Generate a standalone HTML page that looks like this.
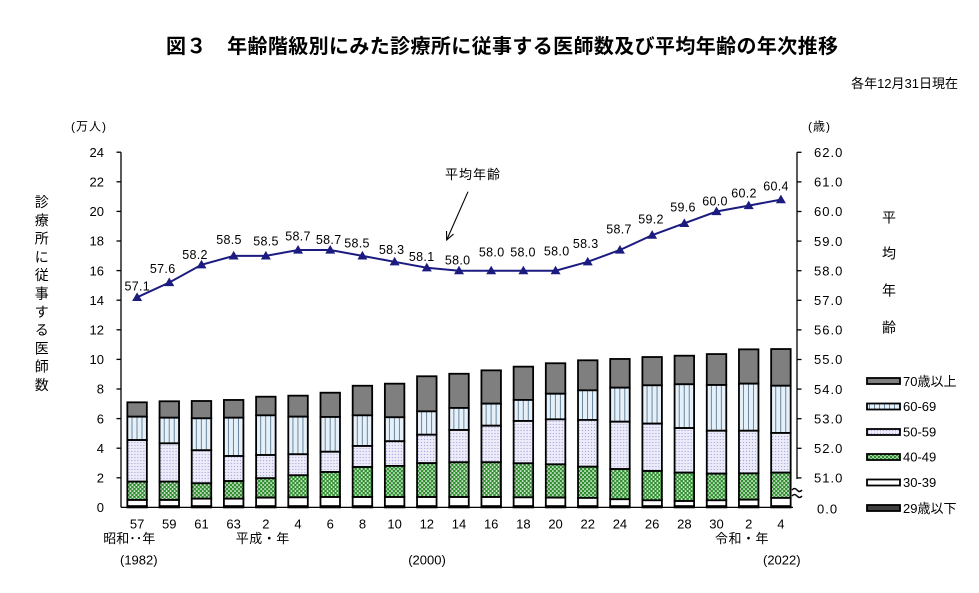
<!DOCTYPE html>
<html><head><meta charset="utf-8"><style>
html,body{margin:0;padding:0;background:#fff;}
svg{display:block;}
text{font-family:"Liberation Sans","Noto Sans CJK JP",sans-serif;fill:#000;}
</style></head><body>
<svg width="979" height="593" viewBox="0 0 979 593" xmlns="http://www.w3.org/2000/svg">
<defs>
<pattern id="st" patternUnits="userSpaceOnUse" width="5" height="10"><rect width="5" height="10" fill="#e6f0f8"/><rect x="4.3" y="0" width="1.4" height="10" fill="#34587a"/></pattern>
<pattern id="dt" patternUnits="userSpaceOnUse" width="3" height="3"><rect width="3" height="3" fill="#ececfa"/><circle cx="1.5" cy="1.5" r="0.65" fill="#a9a9da"/></pattern>
<pattern id="gr" patternUnits="userSpaceOnUse" width="4" height="4"><rect width="4" height="4" fill="#2f8f2f"/><rect x="0.3" y="0.3" width="1.5" height="1.5" fill="#fff"/><rect x="2.3" y="2.3" width="1.5" height="1.5" fill="#fff"/></pattern>
<path id="m" d="M0,-5 L5,3.6 L-5,3.6Z" fill="#1c1c80"/>
</defs>
<rect width="979" height="593" fill="#fff"/>

<!-- Title -->
<text x="166" y="53" font-size="20" font-weight="bold" textLength="672" lengthAdjust="spacing">図３　年齢階級別にみた診療所に従事する医師数及び平均年齢の年次推移</text>
<text x="958" y="88" font-size="13" text-anchor="end">各年12月31日現在</text>

<!-- unit labels -->
<text x="71" y="130.5" font-size="12" letter-spacing="1">(万人)</text>
<text x="808" y="130.5" font-size="12" letter-spacing="1">(歳)</text>

<!-- left vertical label -->
<text font-size="14" text-anchor="middle">
<tspan x="41.7" y="207">診</tspan><tspan x="41.7" dy="18.3">療</tspan><tspan x="41.7" dy="18.3">所</tspan><tspan x="41.7" dy="18.3">に</tspan><tspan x="41.7" dy="18.3">従</tspan><tspan x="41.7" dy="18.3">事</tspan><tspan x="41.7" dy="18.3">す</tspan><tspan x="41.7" dy="18.3">る</tspan><tspan x="41.7" dy="18.3">医</tspan><tspan x="41.7" dy="18.3">師</tspan><tspan x="41.7" dy="18.3">数</tspan>
</text>
<!-- right vertical label -->
<text font-size="14" text-anchor="middle">
<tspan x="889" y="222.3">平</tspan><tspan x="889" y="258.6">均</tspan><tspan x="889" y="295.3">年</tspan><tspan x="889" y="332.3">齢</tspan>
</text>

<!-- left axis -->
<g stroke="#000" stroke-width="1.3" fill="none">
<line x1="121" y1="152.2" x2="121" y2="507.4"/>
<line x1="121" y1="507.4" x2="793" y2="507.4"/>
<line x1="116.5" y1="152.2" x2="121" y2="152.2"/>
<line x1="116.5" y1="181.8" x2="121" y2="181.8"/>
<line x1="116.5" y1="211.4" x2="121" y2="211.4"/>
<line x1="116.5" y1="241.0" x2="121" y2="241.0"/>
<line x1="116.5" y1="270.6" x2="121" y2="270.6"/>
<line x1="116.5" y1="300.2" x2="121" y2="300.2"/>
<line x1="116.5" y1="329.8" x2="121" y2="329.8"/>
<line x1="116.5" y1="359.4" x2="121" y2="359.4"/>
<line x1="116.5" y1="389.0" x2="121" y2="389.0"/>
<line x1="116.5" y1="418.6" x2="121" y2="418.6"/>
<line x1="116.5" y1="448.2" x2="121" y2="448.2"/>
<line x1="116.5" y1="477.8" x2="121" y2="477.8"/>
<!-- right axis -->
<line x1="797" y1="152.3" x2="797" y2="479"/>
<line x1="797" y1="152.3" x2="801.5" y2="152.3"/>
<line x1="797" y1="181.9" x2="801.5" y2="181.9"/>
<line x1="797" y1="211.5" x2="801.5" y2="211.5"/>
<line x1="797" y1="241.1" x2="801.5" y2="241.1"/>
<line x1="797" y1="270.7" x2="801.5" y2="270.7"/>
<line x1="797" y1="300.3" x2="801.5" y2="300.3"/>
<line x1="797" y1="329.9" x2="801.5" y2="329.9"/>
<line x1="797" y1="359.5" x2="801.5" y2="359.5"/>
<line x1="797" y1="389.1" x2="801.5" y2="389.1"/>
<line x1="797" y1="418.7" x2="801.5" y2="418.7"/>
<line x1="797" y1="448.3" x2="801.5" y2="448.3"/>
<line x1="797" y1="477.9" x2="801.5" y2="477.9"/>
<path d="M792,490 q2.5,-3 5,0 t5,0 M792,496 q2.5,-3 5,0 t5,0" stroke-width="1.4"/>
</g>

<!-- left tick labels -->
<g font-size="13" text-anchor="end">
<text x="104" y="512.1">0</text>
<text x="104" y="482.5">2</text>
<text x="104" y="452.9">4</text>
<text x="104" y="423.3">6</text>
<text x="104" y="393.7">8</text>
<text x="104" y="364.1">10</text>
<text x="104" y="334.5">12</text>
<text x="104" y="304.9">14</text>
<text x="104" y="275.3">16</text>
<text x="104" y="245.7">18</text>
<text x="104" y="216.1">20</text>
<text x="104" y="186.5">22</text>
<text x="104" y="156.9">24</text>
</g>
<!-- right tick labels -->
<g font-size="13" letter-spacing="1">
<text x="814" y="157">62.0</text>
<text x="814" y="186.6">61.0</text>
<text x="814" y="216.2">60.0</text>
<text x="814" y="245.8">59.0</text>
<text x="814" y="275.4">58.0</text>
<text x="814" y="305">57.0</text>
<text x="814" y="334.6">56.0</text>
<text x="814" y="364.2">55.0</text>
<text x="814" y="393.8">54.0</text>
<text x="814" y="423.4">53.0</text>
<text x="814" y="453">52.0</text>
<text x="814" y="482.6">51.0</text>
<text x="817" y="513.7">0.0</text>
</g>

<!-- bars -->
<g stroke="#000" stroke-width="1.8">
<g transform="translate(127.35,0)"><rect y="402.32" width="19.5" height="14.36" fill="#7f7f7f"/><rect y="416.68" width="19.5" height="23.38" fill="url(#st)"/><rect y="440.06" width="19.5" height="41.59" fill="url(#dt)"/><rect y="481.65" width="19.5" height="18.35" fill="url(#gr)"/><rect y="500.0" width="19.5" height="6.2" fill="#fff"/><rect y="506.2" width="19.5" height="1.2" fill="#333"/></g>
<g transform="translate(159.54,0)"><rect y="401.28" width="19.5" height="16.43" fill="#7f7f7f"/><rect y="417.71" width="19.5" height="25.61" fill="url(#st)"/><rect y="443.32" width="19.5" height="38.33" fill="url(#dt)"/><rect y="481.65" width="19.5" height="18.35" fill="url(#gr)"/><rect y="500.0" width="19.5" height="6.2" fill="#fff"/><rect y="506.2" width="19.5" height="1.2" fill="#333"/></g>
<g transform="translate(191.73,0)"><rect y="400.99" width="19.5" height="17.31" fill="#7f7f7f"/><rect y="418.30" width="19.5" height="31.97" fill="url(#st)"/><rect y="450.27" width="19.5" height="33.01" fill="url(#dt)"/><rect y="483.28" width="19.5" height="15.39" fill="url(#gr)"/><rect y="498.67" width="19.5" height="7.53" fill="#fff"/><rect y="506.2" width="19.5" height="1.2" fill="#333"/></g>
<g transform="translate(223.92,0)"><rect y="399.95" width="19.5" height="17.76" fill="#7f7f7f"/><rect y="417.71" width="19.5" height="38.33" fill="url(#st)"/><rect y="456.04" width="19.5" height="25.02" fill="url(#dt)"/><rect y="481.06" width="19.5" height="17.61" fill="url(#gr)"/><rect y="498.67" width="19.5" height="7.53" fill="#fff"/><rect y="506.2" width="19.5" height="1.2" fill="#333"/></g>
<g transform="translate(256.11,0)"><rect y="396.70" width="19.5" height="18.64" fill="#7f7f7f"/><rect y="415.34" width="19.5" height="39.67" fill="url(#st)"/><rect y="455.01" width="19.5" height="23.23" fill="url(#dt)"/><rect y="478.24" width="19.5" height="19.39" fill="url(#gr)"/><rect y="497.63" width="19.5" height="8.57" fill="#fff"/><rect y="506.2" width="19.5" height="1.2" fill="#333"/></g>
<g transform="translate(288.30,0)"><rect y="395.66" width="19.5" height="21.02" fill="#7f7f7f"/><rect y="416.68" width="19.5" height="37.59" fill="url(#st)"/><rect y="454.27" width="19.5" height="21.01" fill="url(#dt)"/><rect y="475.28" width="19.5" height="22.06" fill="url(#gr)"/><rect y="497.34" width="19.5" height="8.86" fill="#fff"/><rect y="506.2" width="19.5" height="1.2" fill="#333"/></g>
<g transform="translate(320.49,0)"><rect y="392.70" width="19.5" height="24.27" fill="#7f7f7f"/><rect y="416.97" width="19.5" height="34.78" fill="url(#st)"/><rect y="451.75" width="19.5" height="20.28" fill="url(#dt)"/><rect y="472.03" width="19.5" height="25.01" fill="url(#gr)"/><rect y="497.04" width="19.5" height="9.16" fill="#fff"/><rect y="506.2" width="19.5" height="1.2" fill="#333"/></g>
<g transform="translate(352.68,0)"><rect y="385.74" width="19.5" height="29.60" fill="#7f7f7f"/><rect y="415.34" width="19.5" height="30.64" fill="url(#st)"/><rect y="445.98" width="19.5" height="21.02" fill="url(#dt)"/><rect y="467.00" width="19.5" height="30.04" fill="url(#gr)"/><rect y="497.04" width="19.5" height="9.16" fill="#fff"/><rect y="506.2" width="19.5" height="1.2" fill="#333"/></g>
<g transform="translate(384.87,0)"><rect y="383.67" width="19.5" height="33.60" fill="#7f7f7f"/><rect y="417.27" width="19.5" height="23.97" fill="url(#st)"/><rect y="441.24" width="19.5" height="24.72" fill="url(#dt)"/><rect y="465.96" width="19.5" height="31.08" fill="url(#gr)"/><rect y="497.04" width="19.5" height="9.16" fill="#fff"/><rect y="506.2" width="19.5" height="1.2" fill="#333"/></g>
<g transform="translate(417.06,0)"><rect y="376.27" width="19.5" height="35.08" fill="#7f7f7f"/><rect y="411.35" width="19.5" height="23.38" fill="url(#st)"/><rect y="434.73" width="19.5" height="28.42" fill="url(#dt)"/><rect y="463.15" width="19.5" height="33.89" fill="url(#gr)"/><rect y="497.04" width="19.5" height="9.16" fill="#fff"/><rect y="506.2" width="19.5" height="1.2" fill="#333"/></g>
<g transform="translate(449.25,0)"><rect y="373.76" width="19.5" height="34.18" fill="#7f7f7f"/><rect y="407.94" width="19.5" height="22.06" fill="url(#st)"/><rect y="430.00" width="19.5" height="32.26" fill="url(#dt)"/><rect y="462.26" width="19.5" height="34.78" fill="url(#gr)"/><rect y="497.04" width="19.5" height="9.16" fill="#fff"/><rect y="506.2" width="19.5" height="1.2" fill="#333"/></g>
<g transform="translate(481.44,0)"><rect y="370.35" width="19.5" height="33.30" fill="#7f7f7f"/><rect y="403.65" width="19.5" height="22.05" fill="url(#st)"/><rect y="425.70" width="19.5" height="36.56" fill="url(#dt)"/><rect y="462.26" width="19.5" height="34.78" fill="url(#gr)"/><rect y="497.04" width="19.5" height="9.16" fill="#fff"/><rect y="506.2" width="19.5" height="1.2" fill="#333"/></g>
<g transform="translate(513.63,0)"><rect y="366.65" width="19.5" height="33.30" fill="#7f7f7f"/><rect y="399.95" width="19.5" height="21.02" fill="url(#st)"/><rect y="420.97" width="19.5" height="42.33" fill="url(#dt)"/><rect y="463.30" width="19.5" height="34.04" fill="url(#gr)"/><rect y="497.34" width="19.5" height="8.86" fill="#fff"/><rect y="506.2" width="19.5" height="1.2" fill="#333"/></g>
<g transform="translate(545.82,0)"><rect y="363.25" width="19.5" height="30.49" fill="#7f7f7f"/><rect y="393.74" width="19.5" height="25.60" fill="url(#st)"/><rect y="419.34" width="19.5" height="44.99" fill="url(#dt)"/><rect y="464.33" width="19.5" height="33.30" fill="url(#gr)"/><rect y="497.63" width="19.5" height="8.57" fill="#fff"/><rect y="506.2" width="19.5" height="1.2" fill="#333"/></g>
<g transform="translate(578.01,0)"><rect y="360.29" width="19.5" height="30.04" fill="#7f7f7f"/><rect y="390.33" width="19.5" height="29.60" fill="url(#st)"/><rect y="419.93" width="19.5" height="46.77" fill="url(#dt)"/><rect y="466.70" width="19.5" height="31.23" fill="url(#gr)"/><rect y="497.93" width="19.5" height="8.27" fill="#fff"/><rect y="506.2" width="19.5" height="1.2" fill="#333"/></g>
<g transform="translate(610.20,0)"><rect y="358.96" width="19.5" height="28.71" fill="#7f7f7f"/><rect y="387.67" width="19.5" height="34.04" fill="url(#st)"/><rect y="421.71" width="19.5" height="47.36" fill="url(#dt)"/><rect y="469.07" width="19.5" height="30.19" fill="url(#gr)"/><rect y="499.26" width="19.5" height="6.94" fill="#fff"/><rect y="506.2" width="19.5" height="1.2" fill="#333"/></g>
<g transform="translate(642.39,0)"><rect y="357.03" width="19.5" height="28.27" fill="#7f7f7f"/><rect y="385.30" width="19.5" height="38.33" fill="url(#st)"/><rect y="423.63" width="19.5" height="47.36" fill="url(#dt)"/><rect y="470.99" width="19.5" height="29.31" fill="url(#gr)"/><rect y="500.30" width="19.5" height="5.9" fill="#fff"/><rect y="506.2" width="19.5" height="1.2" fill="#333"/></g>
<g transform="translate(674.58,0)"><rect y="355.70" width="19.5" height="28.56" fill="#7f7f7f"/><rect y="384.26" width="19.5" height="43.81" fill="url(#st)"/><rect y="428.07" width="19.5" height="44.55" fill="url(#dt)"/><rect y="472.62" width="19.5" height="28.42" fill="url(#gr)"/><rect y="501.04" width="19.5" height="5.16" fill="#fff"/><rect y="506.2" width="19.5" height="1.2" fill="#333"/></g>
<g transform="translate(706.77,0)"><rect y="354.07" width="19.5" height="30.93" fill="#7f7f7f"/><rect y="385.00" width="19.5" height="45.74" fill="url(#st)"/><rect y="430.74" width="19.5" height="42.92" fill="url(#dt)"/><rect y="473.66" width="19.5" height="26.64" fill="url(#gr)"/><rect y="500.30" width="19.5" height="5.9" fill="#fff"/><rect y="506.2" width="19.5" height="1.2" fill="#333"/></g>
<g transform="translate(738.96,0)"><rect y="349.34" width="19.5" height="34.33" fill="#7f7f7f"/><rect y="383.67" width="19.5" height="47.07" fill="url(#st)"/><rect y="430.74" width="19.5" height="42.62" fill="url(#dt)"/><rect y="473.36" width="19.5" height="26.34" fill="url(#gr)"/><rect y="499.70" width="19.5" height="6.5" fill="#fff"/><rect y="506.2" width="19.5" height="1.2" fill="#333"/></g>
<g transform="translate(771.15,0)"><rect y="349.04" width="19.5" height="36.70" fill="#7f7f7f"/><rect y="385.74" width="19.5" height="47.22" fill="url(#st)"/><rect y="432.96" width="19.5" height="39.66" fill="url(#dt)"/><rect y="472.62" width="19.5" height="25.31" fill="url(#gr)"/><rect y="497.93" width="19.5" height="8.27" fill="#fff"/><rect y="506.2" width="19.5" height="1.2" fill="#333"/></g>
</g>

<!-- x axis labels -->
<g font-size="13" text-anchor="middle">
<text x="137.10" y="528.5">57</text>
<text x="169.29" y="528.5">59</text>
<text x="201.48" y="528.5">61</text>
<text x="233.67" y="528.5">63</text>
<text x="265.86" y="528.5">2</text>
<text x="298.05" y="528.5">4</text>
<text x="330.24" y="528.5">6</text>
<text x="362.43" y="528.5">8</text>
<text x="394.62" y="528.5">10</text>
<text x="426.81" y="528.5">12</text>
<text x="459.00" y="528.5">14</text>
<text x="491.19" y="528.5">16</text>
<text x="523.38" y="528.5">18</text>
<text x="555.57" y="528.5">20</text>
<text x="587.76" y="528.5">22</text>
<text x="619.95" y="528.5">24</text>
<text x="652.14" y="528.5">26</text>
<text x="684.33" y="528.5">28</text>
<text x="716.52" y="528.5">30</text>
<text x="748.71" y="528.5">2</text>
<text x="780.90" y="528.5">4</text>
</g>
<text x="103.3" y="543" font-size="13">昭和･･年</text>
<text x="235.7" y="543" font-size="13" letter-spacing="0.5">平成・年</text>
<text x="715" y="543" font-size="13" letter-spacing="0.5">令和・年</text>
<text x="120" y="564.7" font-size="13">(1982)</text>
<text x="427" y="564.7" font-size="13" text-anchor="middle">(2000)</text>
<text x="763" y="564.7" font-size="13">(2022)</text>

<!-- line -->
<polyline fill="none" stroke="#1c1c80" stroke-width="2" points="137.1,297.34 169.29,282.54 201.48,264.78 233.67,255.9 265.86,255.9 298.05,249.98 330.24,249.98 362.43,255.9 394.62,261.82 426.81,267.74 459,270.7 491.19,270.7 523.38,270.7 555.57,270.7 587.76,261.82 619.95,249.98 652.14,235.18 684.33,223.34 716.52,211.5 748.71,205.58 780.9,199.66"/>
<use href="#m" x="137.1" y="297.34"/><use href="#m" x="169.29" y="282.54"/><use href="#m" x="201.48" y="264.78"/><use href="#m" x="233.67" y="255.9"/><use href="#m" x="265.86" y="255.9"/><use href="#m" x="298.05" y="249.98"/><use href="#m" x="330.24" y="249.98"/><use href="#m" x="362.43" y="255.9"/><use href="#m" x="394.62" y="261.82"/><use href="#m" x="426.81" y="267.74"/><use href="#m" x="459" y="270.7"/><use href="#m" x="491.19" y="270.7"/><use href="#m" x="523.38" y="270.7"/><use href="#m" x="555.57" y="270.7"/><use href="#m" x="587.76" y="261.82"/><use href="#m" x="619.95" y="249.98"/><use href="#m" x="652.14" y="235.18"/><use href="#m" x="684.33" y="223.34"/><use href="#m" x="716.52" y="211.5"/><use href="#m" x="748.71" y="205.58"/><use href="#m" x="780.9" y="199.66"/>

<!-- line value labels -->
<g font-size="12.5" text-anchor="middle" letter-spacing="0.3">
<text x="137.3" y="290.5">57.1</text>
<text x="162.7" y="273.2">57.6</text>
<text x="195" y="259">58.2</text>
<text x="229" y="244.2">58.5</text>
<text x="266" y="245.5">58.5</text>
<text x="298" y="240.5">58.7</text>
<text x="328.7" y="244">58.7</text>
<text x="357" y="247.5">58.5</text>
<text x="391.6" y="254">58.3</text>
<text x="421.7" y="260.8">58.1</text>
<text x="457.6" y="264.5">58.0</text>
<text x="491.7" y="256.5">58.0</text>
<text x="523" y="256.5">58.0</text>
<text x="556.7" y="255.5">58.0</text>
<text x="585.7" y="248">58.3</text>
<text x="619" y="233.5">58.7</text>
<text x="651" y="223.5">59.2</text>
<text x="683" y="211.5">59.6</text>
<text x="715" y="205.5">60.0</text>
<text x="744" y="197.5">60.2</text>
<text x="776" y="190.5">60.4</text>
</g>

<!-- annotation -->
<text x="473" y="179" font-size="13" text-anchor="middle" letter-spacing="1">平均年齢</text>
<g stroke="#000" stroke-width="1.1" fill="none">
<line x1="468" y1="191.7" x2="446.7" y2="240"/>
<polyline points="453.5,234.1 446.7,240 446.5,231"/>
</g>

<!-- legend -->
<g stroke="#000" stroke-width="1.8">
<rect x="867" y="378" width="33" height="6" fill="#7f7f7f"/>
<rect x="867" y="403.5" width="33" height="6" fill="url(#st)"/>
<rect x="867" y="429" width="33" height="6" fill="url(#dt)"/>
<rect x="867" y="454" width="33" height="6" fill="url(#gr)"/>
<rect x="867" y="479.5" width="33" height="6" fill="#fff"/>
<rect x="867" y="505" width="33" height="6" fill="#404040"/>
</g>
<g font-size="13">
<text x="903" y="385.8">70歳以上</text>
<text x="903" y="411.2">60-69</text>
<text x="903" y="436.7">50-59</text>
<text x="903" y="461.7">40-49</text>
<text x="903" y="487.2">30-39</text>
<text x="903" y="512.8">29歳以下</text>
</g>
</svg>
</body></html>
